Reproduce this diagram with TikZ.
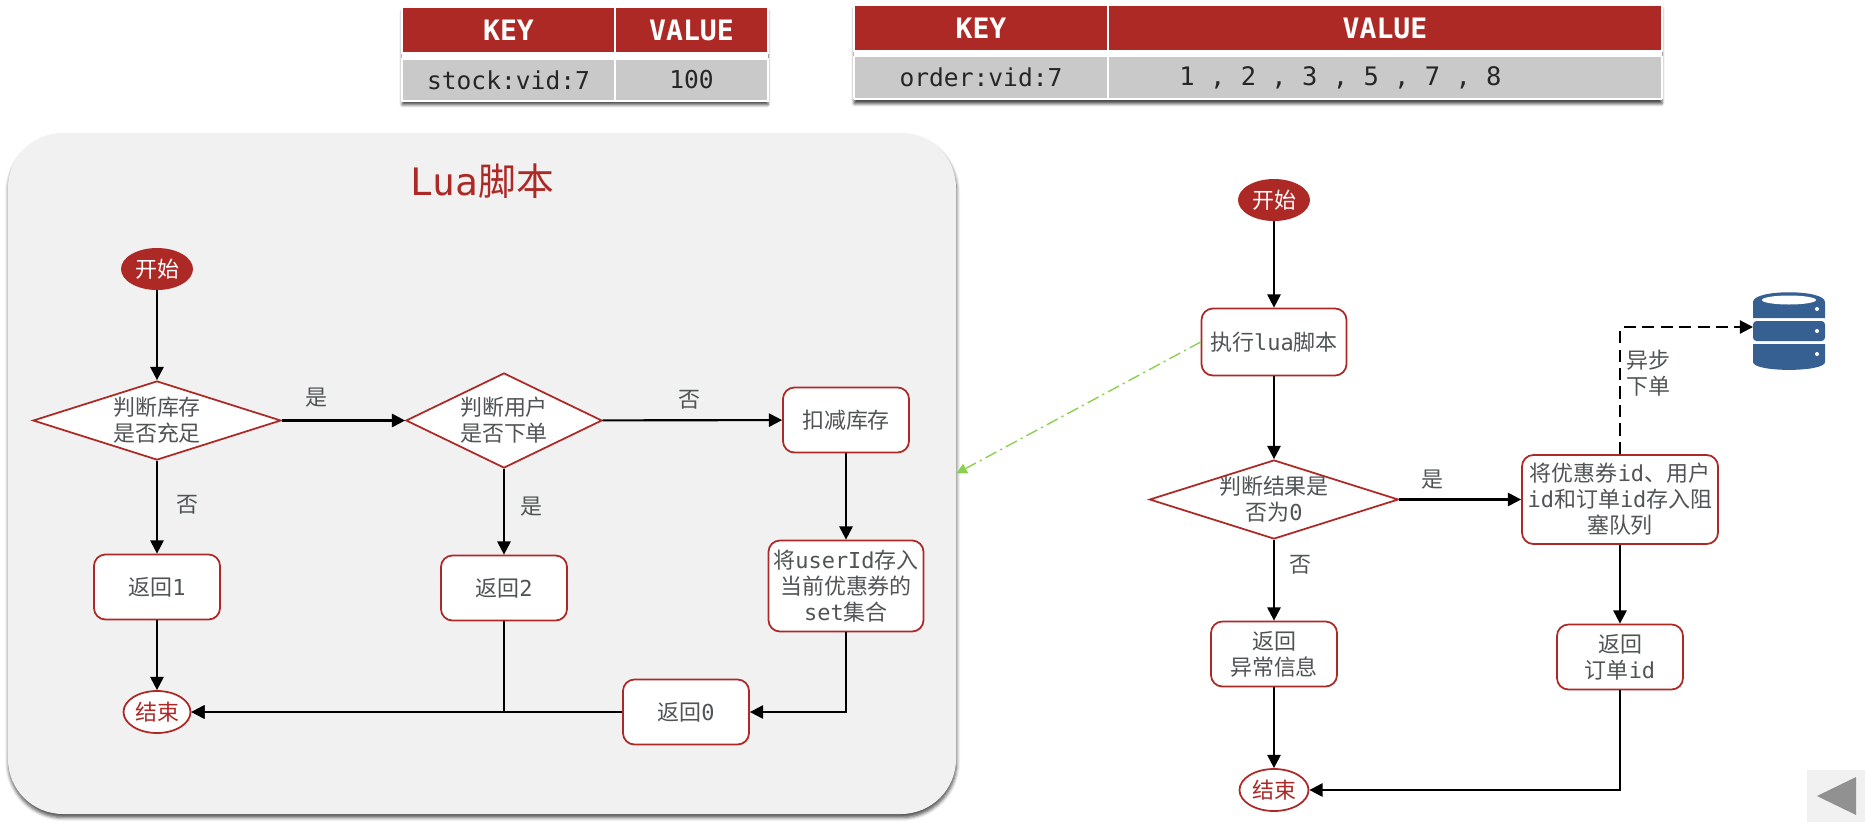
\documentclass[tikz,border=0pt]{standalone}
\usepackage{fontspec}
\setmainfont{Noto Sans CJK SC}
\setmonofont{DejaVu Sans Mono}
\usepackage{xcolor}
\usetikzlibrary{arrows.meta, positioning, shapes.geometric, shadows.blur}
\definecolor{luared}{RGB}{173,41,38}
\definecolor{luagrey}{RGB}{201,201,201}
\definecolor{luatext}{RGB}{80,84,84}
\definecolor{luapanel}{RGB}{241,241,241}
\definecolor{luablue}{RGB}{54,96,146}
\definecolor{luagreen}{RGB}{141,207,80}

\begin{document}
\begin{tikzpicture}[
      x=0.2mm, y=-0.2mm,
      box/.style={draw=luared, fill=white, text=luatext, rounded corners=6.5pt,
                  line width=1pt, align=center, inner sep=0pt,
                  minimum width=2.52cm, minimum height=1.3cm,
                  font=\fontsize{12.5}{14.8}\selectfont},
      dec/.style={box, diamond, rounded corners=0pt},
      startnode/.style={ellipse, fill=luared, text=white, inner sep=0pt,
                  minimum width=1.44cm, minimum height=0.84cm,
                  font=\fontsize{12.5}{14.8}\selectfont},
      endnode/.style={startnode, draw=luared, fill=white, text=luared, line width=1pt,
                  minimum width=1.34cm},
      lbl/.style={text=luatext, inner sep=0pt, align=left,
                  font=\fontsize{12.5}{14.8}\selectfont},
      arr/.style={-{Triangle[length=7.5pt,width=7.5pt]}, line width=1.2pt, black},
      hdr/.style={fill=luared, text=white, draw=white, line width=0.6pt, inner sep=0pt,
                  minimum height=0.92cm, font=\fontsize{16}{18}\selectfont\ttfamily\bfseries},
      cell/.style={fill=luagrey, text=black!85, draw=white, line width=0.6pt, inner sep=0pt,
                  minimum height=0.84cm, font=\fontsize{14}{16}\selectfont\ttfamily},
      tbl/.style={fill=white, inner sep=0pt,
                  blur shadow={shadow blur steps=4, shadow blur radius=1.5pt,
                  shadow xshift=0pt, shadow yshift=-2.2pt, shadow opacity=70}},
      panel/.style={fill=luapanel, rounded corners=1.1cm, inner sep=0pt,
                  minimum width=18.96cm, minimum height=13.62cm,
                  blur shadow={shadow blur steps=5, shadow blur radius=2pt,
                  shadow xshift=0.3pt, shadow yshift=-2pt, shadow opacity=70}}
    ]
    \useasboundingbox (0,0) rectangle (1865,829);

    \node[tbl, minimum width=7.32cm, minimum height=1.88cm] (stocktbl) at (585,54) {};
    \node[hdr, minimum width=4.26cm] (stockkey) at (508.5,30) {KEY};
    \node[hdr, minimum width=3.06cm] (stockval) at (691.5,30) {VALUE};
    \node[cell, minimum width=4.26cm] (stockname) at (508.5,80) {stock:vid:7};
    \node[cell, minimum width=3.06cm] (stocknum) at (691.5,80) {100};

    \node[tbl, minimum width=16.16cm, minimum height=1.9cm] (ordertbl) at (1258,52.5) {};
    \node[hdr, minimum width=5.08cm] (orderkey) at (981,28) {KEY};
    \node[hdr, minimum width=11.08cm] (orderval) at (1385,28) {VALUE};
    \node[cell, minimum width=5.08cm] (ordername) at (981,77.5) {order:vid:7};
    \node[cell, minimum width=11.08cm] (ordernum) at (1385,77.5) {\fontsize{14.5}{16}\selectfont 1 , 2 , 3 , 5 , 7 , 8\hspace*{1.78cm}};

    \node[panel] (lua) at (482,473.5) {};
    \node[text=luared, inner sep=0pt, font=\fontsize{21.5}{24}\selectfont] (luatitle) at (482,181) {\texttt{Lua}脚本};

    \node[startnode] (startL) at (157,269) {开始};
    \node[dec, aspect=3.14, minimum width=4.96cm, minimum height=1.58cm] (stockdec) at (157,420.5) {判断库存\\是否充足};
    \node[dec, aspect=2.06, minimum width=3.92cm, minimum height=1.9cm] (userdec) at (504,420.5) {判断用户\\是否下单};
    \node[box] (reduce) at (846,420) {扣减库存};
    \node[box] (ret1) at (157,587) {返回\texttt{1}};
    \node[box] (ret2) at (504,588) {返回\texttt{2}};
    \node[box, minimum width=3.1cm, minimum height=1.82cm] (saveuser) at (846,586) {将\texttt{userId}存入\\当前优惠券的\\\texttt{set}集合};
    \node[box] (ret0) at (686,712) {返回\texttt{0}};
    \node[endnode] (endL) at (157,712) {结束};

    \node[startnode] (startR) at (1274,200) {开始};
    \node[box, minimum width=2.9cm, minimum height=1.34cm] (runlua) at (1274,342) {执行\texttt{lua}脚本};
    \node[dec, aspect=3.15, inner sep=-0.43mm, minimum width=4.98cm, minimum height=1.58cm] (resdec) at (1274,499.5) {判断结果是\\否为\texttt{0}};
    \node[box, minimum width=3.92cm, minimum height=1.78cm] (queue) at (1620,499.5) {将优惠券\texttt{id}、用户\\\texttt{id}和订单\texttt{id}存入阻\\塞队列};
    \node[box] (reterr) at (1274,654) {返回\\异常信息};
    \node[box] (retid) at (1620,657) {返回\\订单\texttt{id}};
    \node[endnode, minimum width=1.38cm] (endR) at (1274,790) {结束};

    \draw[arr] (startL) -- (stockdec);
    \draw[arr] (stockdec) -- (userdec);
    \draw[arr] (stockdec) -- (ret1);
    \draw[arr] (userdec) -- (reduce);
    \draw[arr] (userdec) -- (ret2);
    \draw[arr] (reduce) -- (saveuser);
    \draw[arr] (ret1) -- (endL);
    \draw[arr] (ret2.south) |- (endL.east);
    \draw[arr] (saveuser.south) |- (ret0.east);
    \draw[arr] (ret0) -- (endL);

    \draw[arr] (startR) -- (runlua);
    \draw[arr] (runlua) -- (resdec);
    \draw[arr] (resdec) -- (queue);
    \draw[arr] (resdec) -- (reterr);
    \draw[arr] (queue) -- (retid);
    \draw[arr] (reterr) -- (endR);
    \draw[arr] (retid.south) |- (endR.east);

    \coordinate (dbin) at (1753,327);
    \draw[arr, dash pattern=on 7pt off 3.5pt, rounded corners=2pt] (queue.north) |- (dbin);
    \draw[-{Triangle[length=6pt,width=6pt]}, luagreen, line width=0.8pt,
          dash pattern=on 7pt off 2.5pt on 1.2pt off 2.5pt] (runlua.west) -- (lua.east);

    \node[lbl] (yes1) at (316,398) {是};
    \node[lbl] (no1) at (187.5,505) {否};
    \node[lbl] (yes2) at (531,507) {是};
    \node[lbl] (no2) at (689,400) {否};
    \node[lbl] (yes3) at (1432,480) {是};
    \node[lbl] (no3) at (1300,565) {否};
    \node[lbl] (async) at (1648,373) {异步\\下单};

    \fill[luablue] (1753,318) -- (1753,302) .. controls (1753,289) and (1825,289) .. (1825,302) -- (1825,318) -- cycle;
    \fill[luablue, rounded corners=2pt] (1753,321) rectangle (1825,341);
    \fill[luablue] (1753,344) -- (1825,344) -- (1825,362) .. controls (1825,372.5) and (1753,372.5) .. (1753,362) -- cycle;
    \fill[white] (1789,300) ellipse[x radius=27, y radius=4.5];
    \foreach \ledy in {309,331,354} \fill[white] (1817,\ledy) circle[radius=2];

    \fill[luapanel] (1807,770) rectangle (1865,822);
    \fill[black!43] (1817,796) -- (1856,777) -- (1856,815) -- cycle;
  \end{tikzpicture}
\end{document}
